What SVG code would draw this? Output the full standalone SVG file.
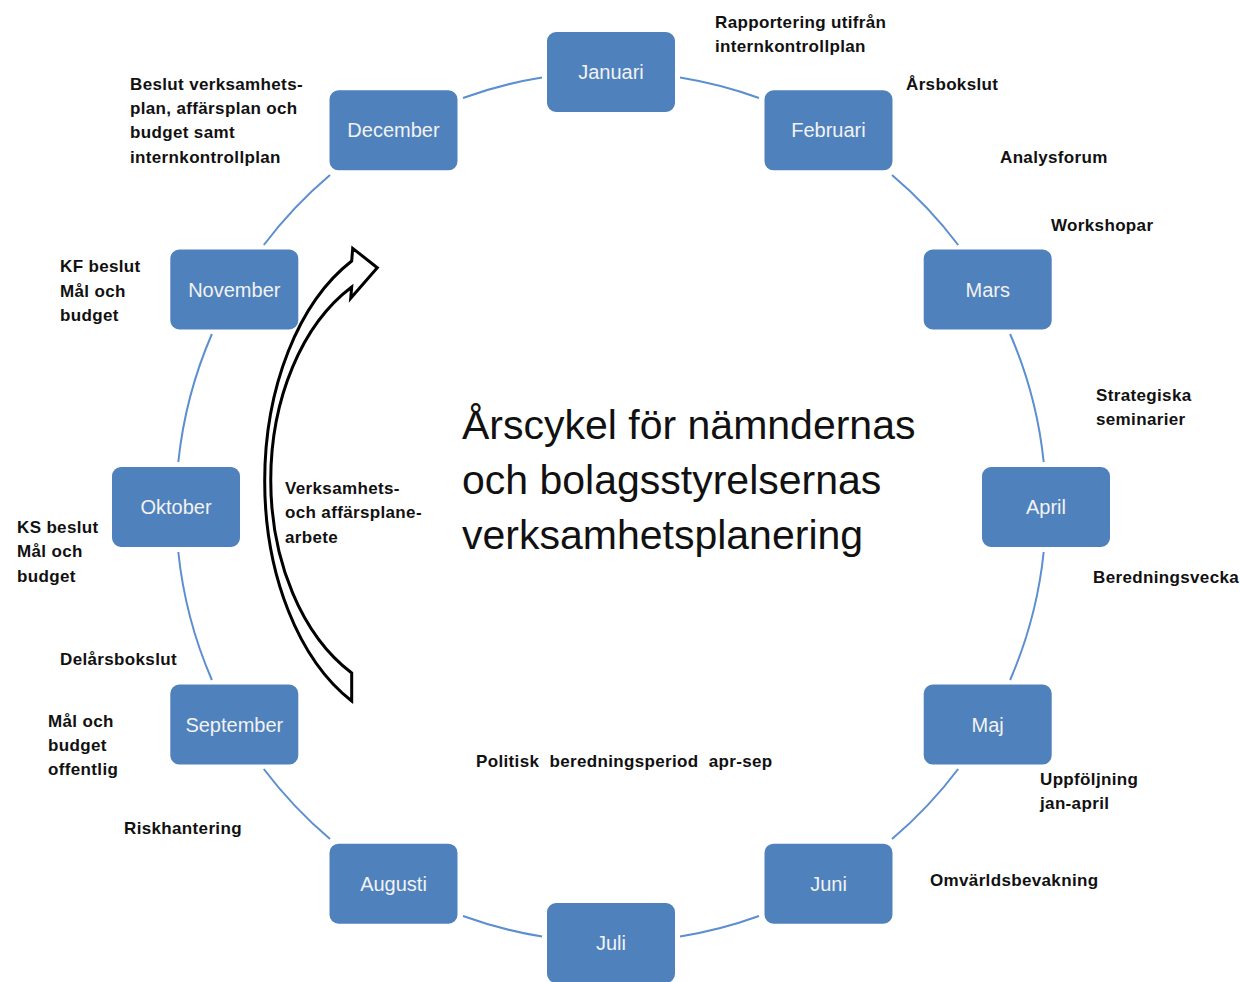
<svg xmlns="http://www.w3.org/2000/svg" width="1240" height="982" viewBox="0 0 1240 982">
<style>
.box{fill:#4f81bd;stroke:#ffffff;stroke-width:2}
.mt{font-family:"Liberation Sans",Arial,sans-serif;font-size:20px;fill:#f2f2f2;text-anchor:middle}
.an{font-family:"Liberation Sans",Arial,sans-serif;font-size:17px;letter-spacing:0.35px;font-weight:bold;fill:#111}
.ti{font-family:"Liberation Sans",Arial,sans-serif;font-size:41px;fill:#111}
.cn{fill:none;stroke:#5b8fcf;stroke-width:2}
</style>
<rect width="1240" height="982" fill="#ffffff"/>
<g id="connectors">
<path class="cn" d="M680,77.5 A435,435 0 0 1 759,98"/>
<path class="cn" d="M892,175 A435,435 0 0 1 958.2,245"/>
<path class="cn" d="M1010.1,334 A435,435 0 0 1 1043.7,462"/>
<path class="cn" d="M1043.7,552 A435,435 0 0 1 1010.1,680"/>
<path class="cn" d="M958.2,769 A435,435 0 0 1 892,839"/>
<path class="cn" d="M759,916 A435,435 0 0 1 680,936.5"/>
<path class="cn" d="M542,936.5 A435,435 0 0 1 463,916"/>
<path class="cn" d="M330,839 A435,435 0 0 1 263.8,769"/>
<path class="cn" d="M211.9,680 A435,435 0 0 1 178.3,552"/>
<path class="cn" d="M178.3,462 A435,435 0 0 1 211.9,334"/>
<path class="cn" d="M263.8,245 A435,435 0 0 1 330,175"/>
<path class="cn" d="M463,98 A435,435 0 0 1 542,77.5"/>
</g>
<g id="januari"><rect class="box" x="546" y="31" width="130" height="82" rx="10"/><text class="mt" x="611" y="79">Januari</text></g>
<g id="februari"><rect class="box" x="763.5" y="89.3" width="130" height="82" rx="10"/><text class="mt" x="828.5" y="137.3">Februari</text></g>
<g id="mars"><rect class="box" x="922.7" y="248.5" width="130" height="82" rx="10"/><text class="mt" x="987.7" y="296.5">Mars</text></g>
<g id="april"><rect class="box" x="981" y="466" width="130" height="82" rx="10"/><text class="mt" x="1046" y="514">April</text></g>
<g id="maj"><rect class="box" x="922.7" y="683.5" width="130" height="82" rx="10"/><text class="mt" x="987.7" y="731.5">Maj</text></g>
<g id="juni"><rect class="box" x="763.5" y="842.7" width="130" height="82" rx="10"/><text class="mt" x="828.5" y="890.7">Juni</text></g>
<g id="juli"><rect class="box" x="546" y="902" width="130" height="82" rx="10"/><text class="mt" x="611" y="950">Juli</text></g>
<g id="augusti"><rect class="box" x="328.5" y="842.7" width="130" height="82" rx="10"/><text class="mt" x="393.5" y="890.7">Augusti</text></g>
<g id="september"><rect class="box" x="169.3" y="683.5" width="130" height="82" rx="10"/><text class="mt" x="234.3" y="731.5">September</text></g>
<g id="oktober"><rect class="box" x="111" y="466" width="130" height="82" rx="10"/><text class="mt" x="176" y="514">Oktober</text></g>
<g id="november"><rect class="box" x="169.3" y="248.5" width="130" height="82" rx="10"/><text class="mt" x="234.3" y="296.5">November</text></g>
<g id="december"><rect class="box" x="328.5" y="89.3" width="130" height="82" rx="10"/><text class="mt" x="393.5" y="137.3">December</text></g>
<g id="arrow">
<path d="M351.7,673 L351.7,701 A156,245.3 0 0 1 351.7,261 L352.7,248.3 L377.3,267.7 L350.7,298.3 L351.7,287 A150,217.4 0 0 0 351.7,673 Z" fill="#ffffff" stroke="#000000" stroke-width="3" stroke-linejoin="miter"/>
</g>
<g id="title">
<text class="ti" x="462" y="439">Årscykel för nämndernas</text>
<text class="ti" x="462" y="494">och bolagsstyrelsernas</text>
<text class="ti" x="462" y="549">verksamhetsplanering</text>
</g>
<g id="annotations">
<text class="an" x="715" y="28">Rapportering utifrån</text>
<text class="an" x="715" y="52">internkontrollplan</text>
<text class="an" x="906" y="90">Årsbokslut</text>
<text class="an" x="1000" y="163">Analysforum</text>
<text class="an" x="1051" y="231">Workshopar</text>
<text class="an" x="1096" y="401">Strategiska</text>
<text class="an" x="1096" y="425">seminarier</text>
<text class="an" x="1093" y="583">Beredningsvecka</text>
<text class="an" x="1040" y="785">Uppföljning</text>
<text class="an" x="1040" y="809">jan-april</text>
<text class="an" x="930" y="886">Omvärldsbevakning</text>
<text class="an" x="476" y="767" xml:space="preserve" style="white-space:pre">Politisk  beredningsperiod  apr-sep</text>
<text class="an" x="124" y="834">Riskhantering</text>
<text class="an" x="48" y="727">Mål och</text>
<text class="an" x="48" y="751">budget</text>
<text class="an" x="48" y="775">offentlig</text>
<text class="an" x="60" y="665">Delårsbokslut</text>
<text class="an" x="17" y="533">KS beslut</text>
<text class="an" x="17" y="557">Mål och</text>
<text class="an" x="17" y="582">budget</text>
<text class="an" x="60" y="272">KF beslut</text>
<text class="an" x="60" y="297">Mål och</text>
<text class="an" x="60" y="321">budget</text>
<text class="an" x="130" y="90">Beslut verksamhets-</text>
<text class="an" x="130" y="114">plan, affärsplan och</text>
<text class="an" x="130" y="138">budget samt</text>
<text class="an" x="130" y="163">internkontrollplan</text>
<text class="an" x="285" y="494">Verksamhets-</text>
<text class="an" x="285" y="518">och affärsplane-</text>
<text class="an" x="285" y="543">arbete</text>
</g>
</svg>
